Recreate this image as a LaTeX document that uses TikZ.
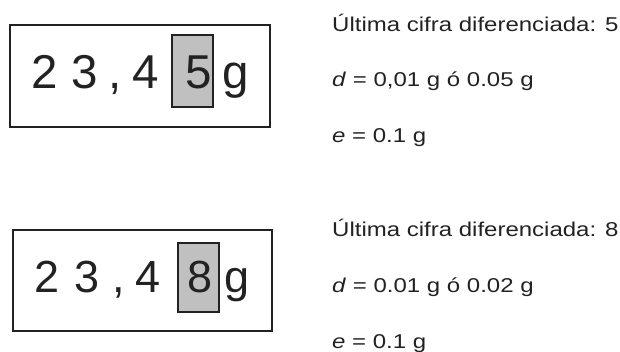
\documentclass[tikz,border=0pt]{standalone}
\usepackage{fontspec}
\usepackage{graphicx}
\setmainfont{Liberation Sans}
\definecolor{ink}{HTML}{222222}
\definecolor{hilite}{HTML}{C0C0C0}
\tikzset{
  outerbox/.style={draw=ink, line width=2pt, inner sep=0pt},
  graybox/.style={draw=ink, fill=hilite, line width=2pt, inner sep=0pt},
  bigdigit/.style={anchor=base, inner sep=0pt, text=ink},
  infotext/.style={anchor=base west, inner sep=0pt, text=ink, font=\fontsize{20}{24}\selectfont},
}
\newcommand{\wide}[1]{\scalebox{1.2}[1]{#1}}
\begin{document}
\begin{tikzpicture}[x=1pt,y=-1pt]
\useasboundingbox (0,0) rectangle (620,352);
% top display
\node[outerbox, minimum width=260pt, minimum height=102pt] (box1) at (140,76) {};
\node[graybox, minimum width=41pt, minimum height=72pt] (hl1) at (192.5,71) {};
\begin{scope}[every node/.append style={font=\fontsize{47.5}{50}\selectfont}]
\node[bigdigit] (a1) at (45,89) {2};
\node[bigdigit] (a2) at (85,89) {3};
\node[bigdigit] (a3) at (115.5,89) {,};
\node[bigdigit] (a4) at (146,89) {4};
\node[bigdigit] (a5) at (198.5,89) {5};
\node[bigdigit] (a6) at (235.5,89) {g};
\end{scope}
% bottom display
\node[outerbox, minimum width=259pt, minimum height=101pt] (box2) at (142.5,280.5) {};
\node[graybox, minimum width=41pt, minimum height=69pt] (hl2) at (198.5,277.5) {};
\begin{scope}[every node/.append style={font=\fontsize{45}{48}\selectfont}]
\node[bigdigit] (b1) at (47.5,292) {2};
\node[bigdigit] (b2) at (87,292) {3};
\node[bigdigit] (b3) at (118.5,292) {,};
\node[bigdigit] (b4) at (148.5,292) {4};
\node[bigdigit] (b5) at (200,292) {8};
\node[bigdigit] (b6) at (237.5,292) {g};
\end{scope}
% right texts
\node[infotext] (t1) at (332,32) {\wide{Última cifra diferenciada: 5}};
\node[infotext] (t2) at (332,87) {\wide{\textit{d} = 0,01 g ó 0.05 g}};
\node[infotext] (t3) at (332,143) {\wide{\textit{e} = 0.1 g}};
\node[infotext] (t4) at (332,237) {\wide{Última cifra diferenciada: 8}};
\node[infotext] (t5) at (332,292) {\wide{\textit{d} = 0.01 g ó 0.02 g}};
\node[infotext] (t6) at (332,348) {\wide{\textit{e} = 0.1 g}};
\end{tikzpicture}
\end{document}
